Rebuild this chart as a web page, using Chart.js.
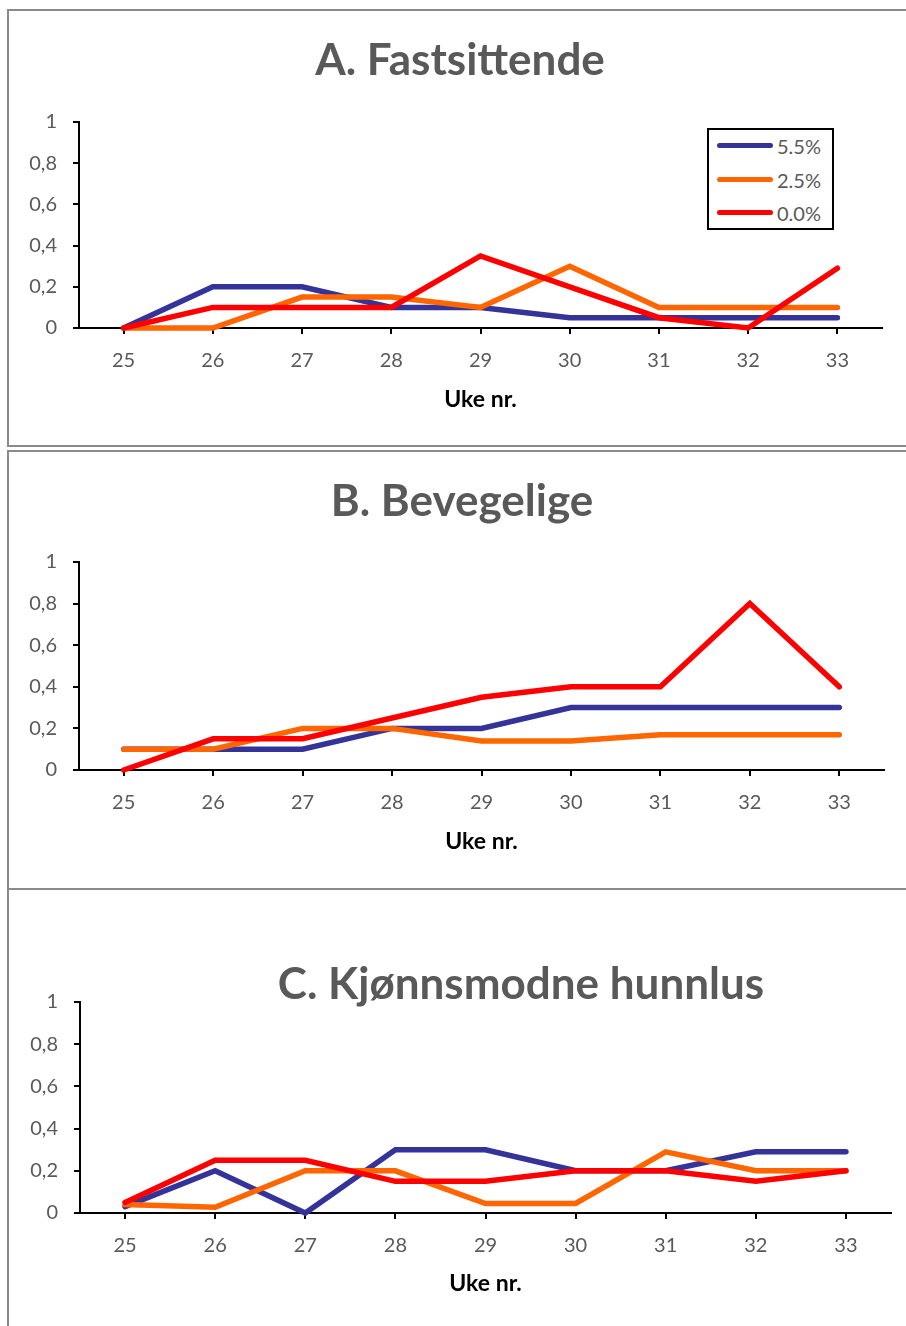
<!DOCTYPE html>
<html>
<head>
<meta charset="utf-8">
<script src="https://cdn.jsdelivr.net/npm/chart.js@4.4.0/dist/chart.umd.min.js"></script>
<style>
body{margin:0;background:#fff;width:906px;height:1326px;overflow:hidden;position:relative;font-family:Lato,sans-serif;}
.panel{position:absolute;left:7px;width:930px;border:2px solid #8a8a8a;box-sizing:border-box;}
canvas{position:absolute;left:10px;}
#legA{position:absolute;left:707px;top:128px;width:127px;height:102px;border:2px solid #000;box-sizing:border-box;background:#fff;}
#legA .rad{position:absolute;left:8px;height:20px;}
#legA .strek{position:absolute;left:0;top:7px;width:56px;height:5px;border-radius:3px;}
#legA .tekst{position:absolute;left:60px;top:-2px;font-size:20px;color:#595959;white-space:nowrap;}
</style>
</head>
<body>
<div class="panel" style="top:9px;height:438px"></div>
<div class="panel" style="top:450px;height:440px"></div>
<div class="panel" style="top:888px;height:460px"></div>
<canvas id="grafA" width="896" height="433" style="top:12px"></canvas>
<canvas id="grafB" width="896" height="435" style="top:453px"></canvas>
<canvas id="grafC" width="896" height="435" style="top:891px"></canvas>
<div id="legA"></div>
<script>
// uke nr. og seriene (andel lus per fisk)
var uke = [25, 26, 27, 28, 29, 30, 31, 32, 33];
var serieNavn = ["5.5%", "2.5%", "0.0%"];
var yEtiketter = ["0", "0,2", "0,4", "0,6", "0,8", "1"];

var fast55 = [0, 0.2, 0.2, 0.1, 0.1, 0.05, 0.05, 0.05, 0.05];
var fast25 = [0, 0, 0.15, 0.15, 0.1, 0.3, 0.1, 0.1, 0.1];
var fast00 = [0, 0.1, 0.1, 0.1, 0.35, 0.2, 0.05, 0, 0.29];

var bev55 = [0.1, 0.1, 0.1, 0.2, 0.2, 0.3, 0.3, 0.3, 0.3];
var bev25 = [0.1, 0.1, 0.2, 0.2, 0.14, 0.14, 0.17, 0.17, 0.17];
var bev00 = [0, 0.15, 0.15, 0.25, 0.35, 0.4, 0.4, 0.8, 0.4];

var hunn55 = [0.03, 0.2, 0, 0.3, 0.3, 0.2, 0.2, 0.29, 0.29];
var hunn25 = [0.04, 0.027, 0.2, 0.2, 0.045, 0.045, 0.29, 0.2, 0.2];
var hunn00 = [0.05, 0.25, 0.25, 0.15, 0.15, 0.2, 0.2, 0.15, 0.2];

var farger = ["#333399", "#FF6600", "#FF0000"];

// flytter tittelen til et gitt midtpunkt
var plassTittel = {
  id: "plassTittel",
  afterLayout: function(chart, args, opts) {
    var t = chart.titleBlock;
    if (!t || opts.x == null) return;
    var half = (t.right - t.left) / 2;
    t.left = opts.x - half;
    t.right = opts.x + half;
    t.top = opts.y - t.options.font.size / 2;
    t.bottom = t.top + t.options.font.size;
  }
};

function lagGraf(id, tittel, d55, d25, d00, g) {
  var canvas = document.getElementById(id);
  var W = canvas.width, H = canvas.height;
  var serier = [d55, d25, d00];
  var datasets = [];
  for (var i = 0; i < serier.length; i++) {
    datasets.push({
      label: serieNavn[i],
      data: serier[i],
      borderColor: farger[i],
      backgroundColor: farger[i],
      borderWidth: 5.5,
      borderCapStyle: "round",
      borderJoinStyle: "miter",
      pointRadius: 0,
      tension: 0,
      fill: false,
      clip: false,
      order: 3 - i
    });
  }
  return new Chart(canvas, {
    type: "line",
    data: { labels: uke, datasets: datasets },
    plugins: [plassTittel],
    options: {
      responsive: false,
      animation: false,
      events: [],
      layout: { padding: { left: 0, right: W - g.right, top: 0, bottom: 0 } },
      plugins: {
        legend: { display: false },
        tooltip: { enabled: false },
        title: {
          display: true,
          text: tittel,
          color: "#595959",
          font: { family: "Lato", size: 44, weight: "bold", lineHeight: 1 },
          padding: { top: 0, bottom: g.top - 44 }
        },
        plassTittel: { x: g.tx, y: g.ty }
      },
      scales: {
        x: {
          offset: true,
          grid: { display: true, drawOnChartArea: false, offset: false, tickLength: 6, color: "#000", lineWidth: 2 },
          border: { display: true, color: "#000", width: 2 },
          ticks: { color: "#595959", font: { family: "Lato", size: 20 }, padding: g.xpad },
          title: {
            display: true,
            text: "Uke nr.",
            color: "#000",
            font: { family: "Lato", size: 23, weight: "bold", lineHeight: 1.2 },
            padding: { top: 0, bottom: g.tpad }
          },
          afterFit: function(s) { s.height = H - g.bottom; }
        },
        y: {
          min: 0,
          max: 1,
          grid: { display: true, drawOnChartArea: false, tickLength: 6, color: "#000", lineWidth: 2 },
          border: { display: true, color: "#000", width: 2 },
          ticks: {
            stepSize: 0.2,
            color: "#595959",
            font: { family: "Lato", size: 20 },
            padding: 16,
            callback: function(v, i) { return yEtiketter[i]; }
          },
          afterFit: function(s) { s.width = g.left; }
        }
      }
    }
  });
}

var grafA = lagGraf("grafA", "A. Fastsittende", fast55, fast25, fast00,
  { left: 69, right: 872, top: 110, bottom: 316, tx: 450, ty: 49, xpad: 15, tpad: 32 });
lagGraf("grafB", "B. Bevegelige", bev55, bev25, bev00,
  { left: 69, right: 874, top: 109, bottom: 317, tx: 452, ty: 49, xpad: 15, tpad: 33 });
lagGraf("grafC", "C. Kjønnsmodne hunnlus", hunn55, hunn25, hunn00,
  { left: 70, right: 881, top: 111, bottom: 322, tx: 511, ty: 94, xpad: 15, tpad: 29 });

// legende i panel A
var leg = document.getElementById("legA");
grafA.data.datasets.forEach(function(ds, i) {
  var rad = document.createElement("div");
  rad.className = "rad";
  rad.style.top = (6 + i * 33.5) + "px";
  rad.innerHTML = '<span class="strek" style="background:' + ds.borderColor + '"></span><span class="tekst">' + ds.label + '</span>';
  leg.appendChild(rad);
});
</script>
</body>
</html>
